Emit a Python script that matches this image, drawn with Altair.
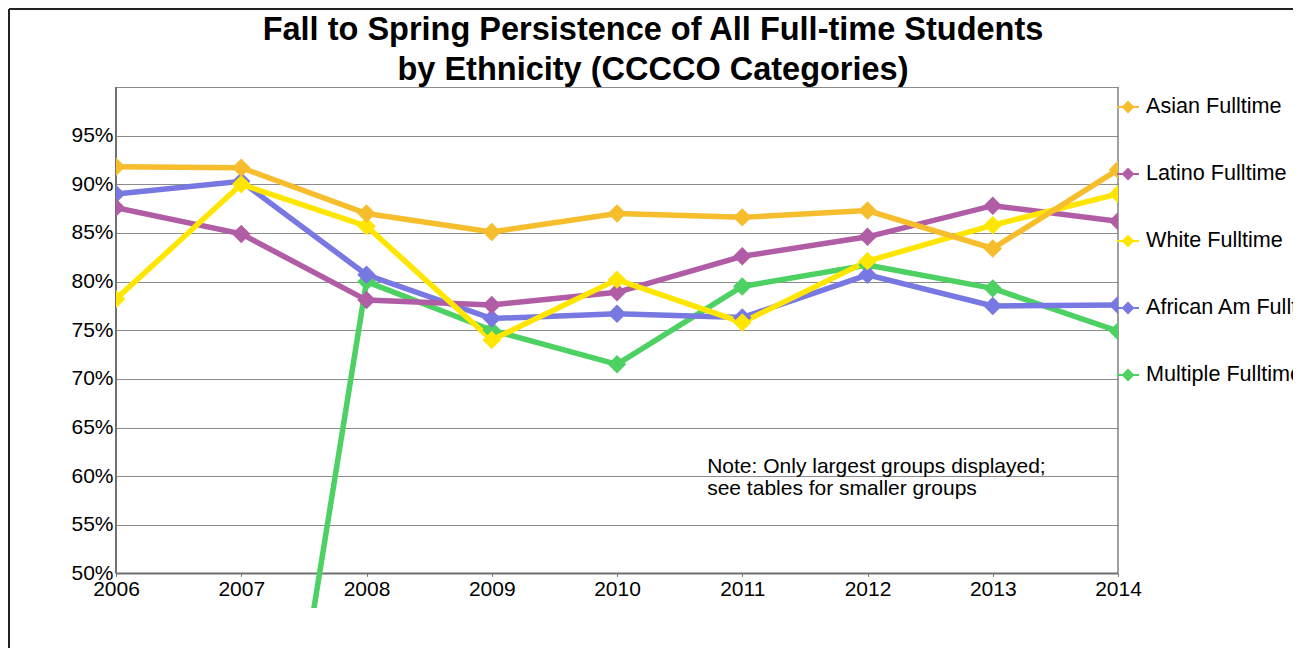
import altair as alt
import pandas as pd

years = [2006, 2007, 2008, 2009, 2010, 2011, 2012, 2013, 2014]
asian = [91.8, 91.7, 87.0, 85.1, 87.0, 86.6, 87.3, 83.4, 91.5]
latino = [87.6, 84.9, 78.1, 77.6, 78.9, 82.6, 84.6, 87.8, 86.2]
white = [78.2, 90.0, 85.7, 74.0, 80.2, 75.8, 82.1, 85.8, 89.0]
african = [89.0, 90.3, 80.7, 76.2, 76.7, 76.3, 80.7, 77.5, 77.6]
multiple = [None, 0.0, 80.0, 75.0, 71.5, 79.5, 81.7, 79.3, 74.9]

legend_order = ["Asian Fulltime", "Latino Fulltime", "White Fulltime",
                "African Am Fulltime", "Multiple Fulltime"]
colors = ["#F6BD2C", "#B15DA6", "#FFE600", "#7878E2", "#4CD162"]
y_ticks = [50, 55, 60, 65, 70, 75, 80, 85, 90, 95, 100]

title_text = "Fall to Spring Persistence of All Full-time Students\nby Ethnicity (CCCCO Categories)"
note = "Note: Only largest groups displayed;\nsee tables for smaller groups"

# draw order: bottom -> top
draw_order = [("Multiple Fulltime", multiple), ("African Am Fulltime", african),
              ("Latino Fulltime", latino), ("White Fulltime", white),
              ("Asian Fulltime", asian)]
rows = []
for name, vals in draw_order:
    for yr, v in zip(years, vals):
        if v is not None:
            rows.append({"year": yr, "value": v, "series": name})
df = pd.DataFrame(rows)

FONT = "Liberation Sans"
LEGEND_PATH = "M-1,-0.09L1,-0.09L1,0.09L-1,0.09Z M0,-0.58L0.58,0L0,0.58L-0.58,0Z"

x_axis = alt.Axis(values=years, format="d", offset=-34.6, domain=False,
                  ticks=True, tickSize=3, tickColor="#777777",
                  labelPadding=2, grid=False, labelFontSize=21,
                  labelFont=FONT, labelColor="#000000", title=None,
                  labelFlush=False, labelOverlap=False)
y_axis = alt.Axis(values=y_ticks,
                  labelExpr="datum.value == 100 ? '' : datum.value + '%'",
                  domain=False, ticks=False, grid=True,
                  gridColor="#8c8c8c", gridWidth=1,
                  labelFont=FONT, labelFontSize=21, labelColor="#000000",
                  labelPadding=3, labelOverlap=False, title=None)
x_scale = alt.Scale(domain=[2006, 2014], nice=False, zero=False)
y_scale = alt.Scale(domain=[46.45, 100], nice=False, zero=False)

x_enc = alt.X("year:Q", scale=x_scale, axis=x_axis)
y_enc = alt.Y("value:Q", scale=y_scale, axis=y_axis)
color_scale = alt.Scale(domain=legend_order, range=colors)

base = alt.Chart(df)

lines = base.mark_line(strokeWidth=5.5, clip=True).encode(
    x=x_enc, y=y_enc,
    color=alt.Color("series:N", scale=color_scale, legend=None),
    detail="series:N",
)

points = base.mark_point(shape="diamond", filled=True, size=340, opacity=1,
                         clip=True).encode(
    x=x_enc, y=y_enc,
    color=alt.Color("series:N", scale=color_scale,
                    legend=alt.Legend(orient="none", legendX=1001, legendY=9,
                                      title=None, symbolType=LEGEND_PATH,
                                      symbolSize=484, symbolStrokeWidth=0,
                                      symbolOpacity=1,
                                      labelFontSize=21.6, labelFont=FONT,
                                      labelColor="#000000", labelLimit=1000,
                                      labelOffset=7, rowPadding=45, padding=0)),
)

one = pd.DataFrame({"k": [0]})
left_frame = alt.Chart(one).mark_rule(color="#707070", strokeWidth=2).encode(
    x=alt.XDatum(2006, axis=x_axis, scale=x_scale),
    y=alt.YDatum(50, axis=y_axis, scale=y_scale), y2=alt.Y2Datum(100))
right_frame = alt.Chart(one).mark_rule(color="#808080", strokeWidth=1.5).encode(
    x=alt.XDatum(2014), y=alt.YDatum(50), y2=alt.Y2Datum(100))
bottom_frame = alt.Chart(one).mark_rule(color="#707070", strokeWidth=2).encode(
    y=alt.YDatum(50), x=alt.XDatum(2006), x2=alt.X2Datum(2014))

note_text = alt.Chart(one).mark_text(
    text=note, lineBreak="\n", align="left", baseline="alphabetic",
    font=FONT, fontSize=21, lineHeight=22, color="#000000").encode(
    x=alt.XDatum(2010.72), y=alt.YDatum(60.35))

title_mark = alt.Chart(one).mark_text(
    text=title_text, lineBreak="\n", align="center", baseline="alphabetic",
    font=FONT, fontSize=32.5, fontWeight="bold", lineHeight=40, color="#000000",
    clip=False).encode(x=alt.value(537), y=alt.value(-47))

# outer picture border (decoration)
outer_top = alt.Chart(one).mark_rule(color="#222222", strokeWidth=2, clip=False).encode(
    x=alt.value(-107), x2=alt.value(1200), y=alt.value(-78))
outer_left = alt.Chart(one).mark_rule(color="#222222", strokeWidth=2, clip=False).encode(
    x=alt.value(-107), y=alt.value(-78), y2=alt.value(600))

chart = alt.layer(
    left_frame, right_frame, bottom_frame, note_text, lines, points,
    title_mark, outer_top, outer_left,
).properties(
    width=1002, height=521,
    autosize=alt.AutoSizeParams(type="none"),
    padding={"left": 108, "top": 79, "right": 175, "bottom": 40},
    view=alt.ViewBackground(stroke="transparent", strokeWidth=0),
).resolve_legend(color="independent").configure_view(
    stroke="transparent", strokeWidth=0
).configure(background="#ffffff")

chart.save("out.html", embed_options={"renderer": "svg", "actions": False})
